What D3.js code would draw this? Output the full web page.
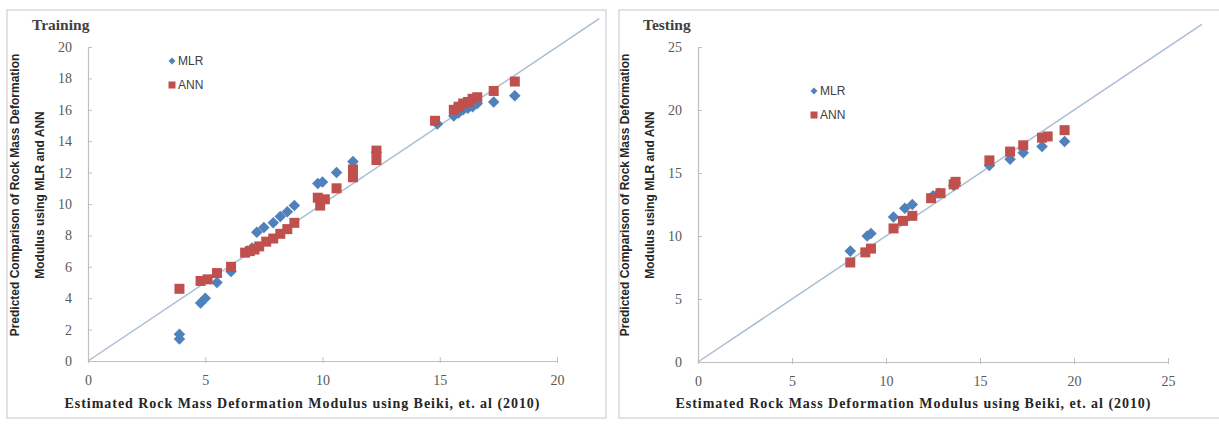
<!DOCTYPE html>
<html>
<head>
<meta charset="utf-8">
<script src="https://cdn.jsdelivr.net/npm/d3@7"></script>
<style>
  body { margin: 0; background: #fff; }
  svg { display: block; }
</style>
</head>
<body>
<script>
// Training data: estimated (Beiki 2010) vs predicted
const trainMlrX = [3.9, 3.9, 4.8, 5.0, 5.5, 6.1, 6.8, 7.0, 7.2, 7.5, 7.9, 8.2, 8.5, 8.8, 9.8, 10.0, 10.6, 11.3, 12.3, 14.9, 15.6, 15.8, 16.0, 16.2, 16.4, 16.6, 17.3, 18.2];
const trainMlrY = [1.4, 1.7, 3.7, 4.0, 5.0, 5.7, 7.0, 7.2, 8.2, 8.5, 8.8, 9.2, 9.5, 9.9, 11.3, 11.4, 12.0, 12.7, 13.3, 15.1, 15.6, 15.8, 16.0, 16.1, 16.2, 16.4, 16.5, 16.9];
const trainAnnX = [3.9, 4.8, 5.1, 5.5, 6.1, 6.7, 6.9, 7.1, 7.3, 7.6, 7.9, 8.2, 8.5, 8.8, 9.8, 9.9, 10.1, 10.6, 11.3, 11.3, 12.3, 12.3, 14.8, 15.6, 15.8, 16.0, 16.2, 16.4, 16.6, 17.3, 18.2];
const trainAnnY = [4.6, 5.1, 5.2, 5.6, 6.0, 6.9, 7.0, 7.1, 7.3, 7.6, 7.8, 8.1, 8.4, 8.8, 10.4, 9.9, 10.3, 11.0, 11.7, 12.2, 12.8, 13.4, 15.3, 16.0, 16.2, 16.4, 16.5, 16.7, 16.8, 17.2, 17.8];

// Testing data
const testMlrX = [8.1, 9.0, 9.2, 10.4, 11.0, 11.4, 12.5, 12.8, 13.6, 13.7, 15.5, 16.6, 17.3, 18.3, 19.5];
const testMlrY = [8.8, 10.0, 10.2, 11.5, 12.2, 12.5, 13.2, 13.4, 14.0, 14.2, 15.6, 16.1, 16.6, 17.1, 17.5];
const testAnnX = [8.1, 8.9, 9.2, 10.4, 10.9, 11.4, 12.4, 12.9, 13.6, 13.7, 15.5, 16.6, 17.3, 18.3, 18.6, 19.5];
const testAnnY = [7.9, 8.7, 9.0, 10.6, 11.2, 11.6, 13.0, 13.4, 14.1, 14.3, 16.0, 16.7, 17.2, 17.8, 17.9, 18.4];

const trainTicks = [0, 2, 4, 6, 8, 10, 12, 14, 16, 18, 20];
const trainXTicks = [0, 5, 10, 15, 20];
const testTicks = [0, 5, 10, 15, 20, 25];

const seriesNames = ['MLR', 'ANN'];
const blue = '#4f81bd';
const red = '#c0504d';

const yLabel1 = 'Predicted Comparison of Rock Mass Deformation';
const yLabel2 = 'Modulus using MLR and ANN';
const xLabel = 'Estimated Rock Mass Deformation Modulus using Beiki, et. al (2010)';

const svg = d3.select('body').append('svg')
  .attr('width', 1219)
  .attr('height', 425);

/**
 * draw one scatter panel
 */
function drawPanel(opt) {
  const g = svg.append('g');

  // panel border
  g.append('rect')
    .attr('x', opt.box[0]).attr('y', opt.box[1])
    .attr('width', opt.box[2]).attr('height', opt.box[3])
    .attr('fill', 'none')
    .attr('stroke', '#d9d9d9')
    .attr('stroke-width', 1.5);

  const x = d3.scaleLinear().domain([0, opt.max]).range([opt.left, opt.right]);
  const y = d3.scaleLinear().domain([0, opt.max]).range([opt.bottom, opt.top]);

  const xAxis = g.append('g')
    .attr('transform', `translate(0,${opt.bottom})`)
    .call(d3.axisBottom(x).tickValues(opt.xTicks).tickSize(4).tickSizeOuter(0).tickPadding(10));
  const yAxis = g.append('g')
    .attr('transform', `translate(${opt.left},0)`)
    .call(d3.axisLeft(y).tickValues(opt.yTicks).tickSize(4).tickSizeOuter(0).tickPadding(12));

  [xAxis, yAxis].forEach((a) => {
    a.select('.domain').attr('stroke', '#bfbfbf').attr('stroke-width', 1.2);
    a.selectAll('.tick line').attr('stroke', '#bfbfbf');
    a.selectAll('.tick text')
      .attr('fill', '#595959')
      .style('font-family', '"Liberation Serif", serif')
      .style('font-size', '14px');
  });
  yAxis.selectAll('.tick line').attr('x2', 4);
  xAxis.selectAll('.tick line').attr('y2', -4).attr('y1', 2);

  // 1:1 line
  g.append('line')
    .attr('x1', x(0)).attr('y1', y(0))
    .attr('x2', x(opt.lineEnd)).attr('y2', y(opt.lineEnd))
    .attr('stroke', '#a9bdd1')
    .attr('stroke-width', 1.5);

  const mlr = opt.mlrX.map((v, i) => ({ x: v, y: opt.mlrY[i] }));
  const ann = opt.annX.map((v, i) => ({ x: v, y: opt.annY[i] }));

  const diamond = d3.symbol().type(d3.symbolDiamond2).size(85);
  g.append('g').selectAll('path')
    .data(mlr)
    .join('path')
    .attr('d', diamond)
    .attr('transform', (d) => `translate(${x(d.x)},${y(d.y)})`)
    .attr('fill', blue);

  g.append('g').selectAll('rect')
    .data(ann)
    .join('rect')
    .attr('x', (d) => x(d.x) - 5)
    .attr('y', (d) => y(d.y) - 5)
    .attr('width', 10).attr('height', 10)
    .attr('fill', red);

  // title
  g.append('text')
    .attr('x', opt.titleX).attr('y', 30)
    .style('font-family', '"Liberation Serif", serif')
    .style('font-weight', 'bold')
    .style('font-size', '15.5px')
    .attr('fill', '#404040')
    .text(opt.title);

  // legend
  const leg = g.append('g');
  seriesNames.forEach((name, i) => {
    const ly = opt.legY + i * 24;
    if (i === 0) {
      leg.append('path')
        .attr('d', d3.symbol().type(d3.symbolDiamond2).size(30))
        .attr('transform', `translate(${opt.legX},${ly})`)
        .attr('fill', blue);
    } else {
      leg.append('rect')
        .attr('x', opt.legX - 3.5).attr('y', ly - 3.5)
        .attr('width', 7).attr('height', 7)
        .attr('fill', red);
    }
    leg.append('text')
      .attr('x', opt.legX + 6).attr('y', ly + 4)
      .style('font-family', '"Liberation Sans", Arial, sans-serif')
      .style('font-size', '12px')
      .attr('fill', '#404040')
      .text(name);
  });

  // axis labels
  const yl = g.append('text')
    .attr('transform', `translate(${opt.yLabX},${opt.yLabY}) rotate(-90)`)
    .attr('text-anchor', 'middle')
    .style('font-family', '"Liberation Sans Narrow", "Liberation Sans", Arial, sans-serif')
    .style('font-weight', 'bold')
    .style('font-size', '12px')
    .attr('fill', '#262626');
  yl.append('tspan').attr('x', 0).attr('dy', 0).text(yLabel1);
  yl.append('tspan').attr('x', 0).attr('dy', 25).text(yLabel2);

  g.append('text')
    .attr('x', opt.xLabX).attr('y', 408)
    .attr('text-anchor', 'middle')
    .attr('textLength', 475)
    .attr('lengthAdjust', 'spacing')
    .style('font-family', '"Liberation Serif", serif')
    .style('font-weight', 'bold')
    .style('font-size', '14px')
    .attr('fill', '#262626')
    .text(xLabel);
}

drawPanel({
  box: [7, 10, 599, 408],
  left: 88, right: 557, top: 47, bottom: 361,
  max: 20, xTicks: trainXTicks, yTicks: trainTicks, lineEnd: 21.8,
  mlrX: trainMlrX, mlrY: trainMlrY, annX: trainAnnX, annY: trainAnnY,
  title: 'Training', titleX: 32,
  legX: 172, legY: 61,
  yLabX: 19, yLabY: 195,
  xLabX: 302,
});

drawPanel({
  box: [619, 10, 620, 408],
  left: 698, right: 1168, top: 47, bottom: 362,
  max: 25, xTicks: testTicks, yTicks: testTicks, lineEnd: 26.8,
  mlrX: testMlrX, mlrY: testMlrY, annX: testAnnX, annY: testAnnY,
  title: 'Testing', titleX: 643,
  legX: 814, legY: 91,
  yLabX: 629, yLabY: 195,
  xLabX: 913,
});
</script>
</body>
</html>
